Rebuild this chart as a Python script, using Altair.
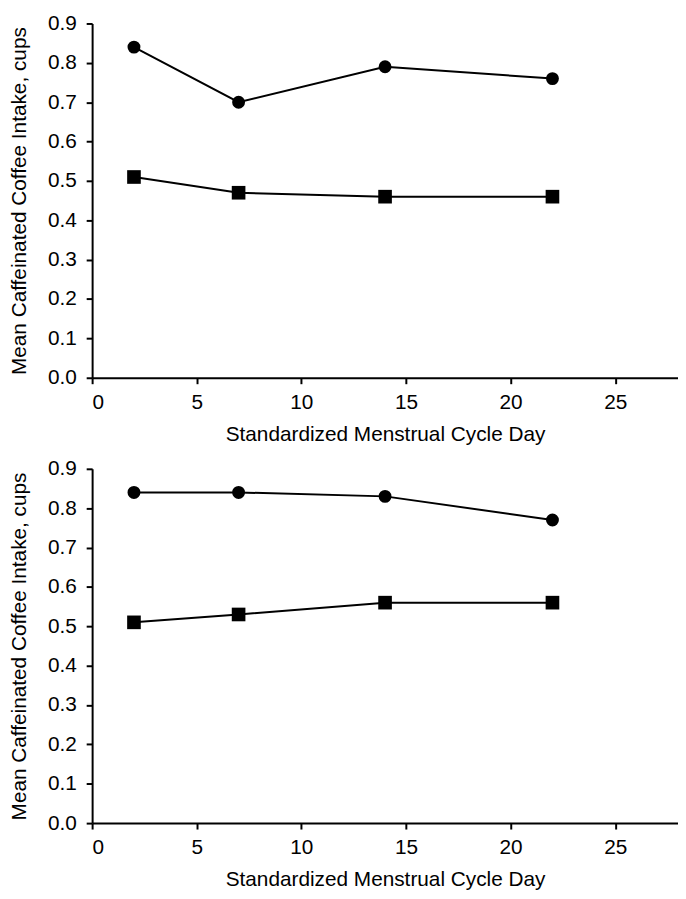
import altair as alt
import pandas as pd

days = [2, 7, 14, 22]
top_circle = [0.84, 0.70, 0.79, 0.76]
top_square = [0.51, 0.47, 0.46, 0.46]
bottom_circle = [0.84, 0.84, 0.83, 0.77]
bottom_square = [0.51, 0.53, 0.56, 0.56]

x_ticks = [0, 5, 10, 15, 20, 25]
y_ticks = [0.0, 0.1, 0.2, 0.3, 0.4, 0.5, 0.6, 0.7, 0.8, 0.9]

rows = []
for panel, circ, sq in [("top", top_circle, top_square), ("bottom", bottom_circle, bottom_square)]:
    for d, v in zip(days, circ):
        rows.append({"panel": panel, "series": "circle", "day": d, "value": v})
    for d, v in zip(days, sq):
        rows.append({"panel": panel, "series": "square", "day": d, "value": v})
df = pd.DataFrame(rows)

FONT = "Liberation Sans"


def make_panel(name):
    base = alt.Chart(df).transform_filter(alt.datum.panel == name)
    x = alt.X("day:Q", scale=alt.Scale(domain=[0, 28], nice=False),
              axis=alt.Axis(values=x_ticks, title="Standardized Menstrual Cycle Day",
                            format="d"))
    y = alt.Y("value:Q", scale=alt.Scale(domain=[0, 0.9], nice=False),
              axis=alt.Axis(values=y_ticks, format=".1f",
                            title="Mean Caffeinated Coffee Intake, cups"))
    line = base.mark_line(color="black", strokeWidth=2).encode(x=x, y=y, detail="series:N")
    circles = base.transform_filter(alt.datum.series == "circle").mark_circle(
        color="black", opacity=1, size=170).encode(x=x, y=y)
    squares = base.transform_filter(alt.datum.series == "square").mark_square(
        color="black", opacity=1, size=190).encode(x=x, y=y)
    return alt.layer(line, circles, squares).properties(width=592, height=358)


chart = alt.vconcat(make_panel("top"), make_panel("bottom"), spacing=14).properties(
    padding={"left": 0, "top": 0, "right": 0, "bottom": 0}
).configure_view(stroke=None).configure_axis(
    grid=False,
    domainColor="black",
    domainWidth=2,
    tickColor="black",
    tickWidth=2,
    tickSize=6,
    labelFont=FONT,
    labelFontSize=21,
    labelColor="black",
    labelPadding=8,
    titleFont=FONT,
    titleFontSize=21,
    titleFontWeight="normal",
    titleColor="black",
).configure_axisY(titlePadding=18, labelPadding=10).configure_axisX(titlePadding=11)

chart.save("out.html", embed_options={"renderer": "svg", "actions": False})
